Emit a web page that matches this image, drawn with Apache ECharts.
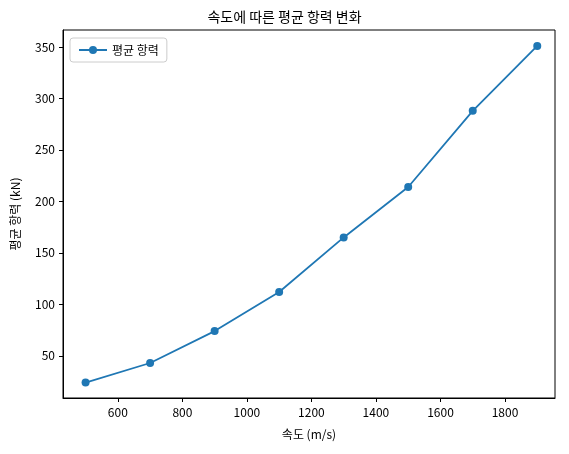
<!DOCTYPE html>
<html><head><meta charset="utf-8">
<script src="https://cdn.jsdelivr.net/npm/echarts@6/dist/echarts.min.js"></script>
<style>html,body{margin:0;padding:0;background:#fff}#c{width:569px;height:454px}</style>
</head><body><div id="c"></div>
<script>
const speeds = [500, 700, 900, 1100, 1300, 1500, 1700, 1900];
const drag = [24, 43, 74, 112, 165, 214, 288, 351];
const xTicks = [600, 800, 1000, 1200, 1400, 1600, 1800];
const yTicks = [50, 100, 150, 200, 250, 300, 350];
const F = '"Noto Sans CJK KR", "DejaVu Sans", sans-serif';
const c = echarts.init(document.getElementById('c'));
const ax = {color:'#000', width:1};
c.setOption({
  animation:false,
  title:{text:'속도에 따른 평균 항력 변화', left:'center', top:5, textStyle:{fontFamily:F, fontSize:14, fontWeight:'normal', color:'#000'}},
  legend:{left:70, top:38, itemWidth:28, itemHeight:10, borderColor:'#ccc', borderWidth:1, borderRadius:3, padding:[6,8],
    textStyle:{fontFamily:F, fontSize:12, color:'#000'}, data:['평균 항력']},
  grid:{left:63, right:14, top:30, bottom:56},
  xAxis:{type:'value', min:430, max:1955, name:'속도 (m/s)', nameLocation:'middle', nameGap:30,
    nameTextStyle:{fontFamily:F, fontSize:12, color:'#000'},
    axisLine:{onZero:false, lineStyle:ax}, splitLine:{show:false},
    axisTick:{customValues:xTicks, length:4, inside:false, lineStyle:ax},
    axisLabel:{customValues:xTicks, formatter:v=>String(v), fontFamily:F, fontSize:12, color:'#000'}},
  yAxis:{type:'value', min:9, max:366.5, name:'평균 항력 (kN)', nameLocation:'middle', nameGap:42,
    nameTextStyle:{fontFamily:F, fontSize:12, color:'#000'},
    axisLine:{show:true, onZero:false, lineStyle:ax}, splitLine:{show:false},
    axisTick:{show:true, customValues:yTicks, length:4, lineStyle:ax},
    axisLabel:{customValues:yTicks, formatter:v=>String(v), fontFamily:F, fontSize:12, color:'#000'}},
  graphic:[{type:'rect', shape:{x:63, y:30, width:492, height:368}, style:{fill:'none', stroke:'#000', lineWidth:1}, silent:true}],
  series:[{name:'평균 항력', type:'line', data:speeds.map((s,i)=>[s,drag[i]]),
    symbol:'circle', symbolSize:8, color:'#1f77b4', lineStyle:{width:1.8}, itemStyle:{color:'#1f77b4'}}]
});
</script></body></html>
